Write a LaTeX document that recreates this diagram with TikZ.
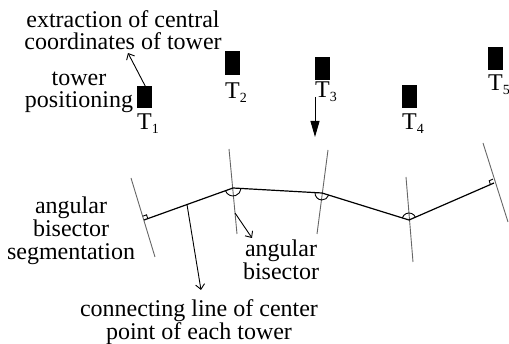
\documentclass[tikz,border=0pt]{standalone}
\usepackage{fontspec}
\setmainfont{Liberation Serif}
\usetikzlibrary{calc,arrows.meta}
\newcommand\tsub[1]{\raisebox{-4pt}{\fontsize{14}{14}\selectfont #1}}
\begin{document}
\begin{tikzpicture}[x=1pt,y=-1pt,
  tower/.style={fill=black, draw=none, inner sep=0pt, minimum width=15pt, anchor=north west},
  lbl/.style={inner sep=0pt, font=\fontsize{24}{23}\selectfont, align=center, anchor=north},
  tlbl/.style={inner sep=0pt, font=\fontsize{24}{24}\selectfont, anchor=north west},
  link/.style={line width=1.2pt, line join=round},
  bis/.style={draw=black!60, line width=0.9pt},
  arr/.style={line width=0.9pt, -{Straight Barb[length=5pt,width=9pt]}},
  anglemark/.style={line width=0.9pt}
]
\useasboundingbox (0,0) rectangle (509,344);

% towers
\node[tower, minimum height=22pt] (t1) at (137,86) {};
\node[tower, minimum height=24pt] (t2) at (225,51) {};
\node[tower, minimum height=23pt] (t3) at (315,57) {};
\node[tower, minimum height=23pt] (t4) at (402,85) {};
\node[tower, minimum height=23pt] (t5) at (488,47) {};

\node[tlbl] (l1) at ($(t1.south west)+(0,5)$) {T\tsub{1}};
\node[tlbl] (l2) at ($(t2.south west)+(0,7)$) {T\tsub{2}};
\node[tlbl] (l3) at ($(t3.south west)+(0,1)$) {T\tsub{3}};
\node[tlbl] (l4) at ($(t4.south west)+(0,5)$) {T\tsub{4}};
\node[tlbl] (l5) at ($(t5.south west)+(0,4)$) {T\tsub{5}};

% texts
\node[lbl, font=\fontsize{24}{22}\selectfont] (ext) at (123,10) {extraction of central\\coordinates of tower};
\node[lbl, font=\fontsize{24}{22}\selectfont] (pos) at (79,72) {tower\\positioning};
\node[lbl] (seg) at (71,197) {angular\\bisector\\segmentation};
\node[lbl] (abis) at (281,240) {angular\\bisector};
\node[lbl] (conn) at (199,299) {connecting line of center\\point of each tower};

% polyline points
\coordinate (p1) at (144,220);
\coordinate (p2) at (233,188);
\coordinate (p3) at (322,193);
\coordinate (p4) at (409,220);
\coordinate (p5) at (494,183);

% bisector ends
\coordinate (b1a) at (131,178); \coordinate (b1b) at (155,257);
\coordinate (b2a) at (229,149); \coordinate (b2b) at (237,234);
\coordinate (b3a) at (328,150); \coordinate (b3b) at (317,234);
\coordinate (b4a) at (406,177); \coordinate (b4b) at (413,262);
\coordinate (b5a) at (483,143); \coordinate (b5b) at (508,222);

\draw[bis] (b1a) -- (b1b);
\draw[bis] (b2a) -- (b2b);
\draw[bis] (b3a) -- (b3b);
\draw[bis] (b4a) -- (b4b);
\draw[bis] (b5a) -- (b5b);

\draw[link] (p1) -- (p2) -- (p3) -- (p4) -- (p5);

% angle marks
\draw[anglemark] ($(p2)+(199.8:8pt)$) arc[start angle=199.8, end angle=356.8, radius=8pt];
\draw[anglemark] ($(p3)+(176.8:7pt)$) arc[start angle=176.8, end angle=342.8, radius=7pt];
\draw[anglemark] ($(p4)+(23.5:7pt)$) arc[start angle=23.5, end angle=162.7, radius=7pt];

\coordinate (s1a) at ($(p1)!4pt!(p2)$);
\coordinate (s1b) at ($(p1)!4pt!(b1a)$);
\draw[anglemark] (s1a) -- ($(s1a)+(s1b)-(p1)$) -- (s1b);
\coordinate (s5a) at ($(p5)!4pt!(p4)$);
\coordinate (s5b) at ($(p5)!4pt!(b5a)$);
\draw[anglemark] (s5a) -- ($(s5a)+(s5b)-(p5)$) -- (s5b);

% arrows
\coordinate (extpt) at (128,53);
\draw[arr] ($(t1.north)+(0.5,0)$) -- (extpt);

\coordinate (a3s) at (315,97);
\coordinate (a3e) at (315,137);
\draw[line width=0.9pt, -{Triangle[length=16pt,width=9pt]}] (a3s) -- (a3e);

\coordinate (q2) at ($(b2a)!0.753!(b2b)$);
\coordinate (abispt) at (252,238);
\draw[arr] (q2) -- (abispt);

\coordinate (f) at ($(p1)!0.483!(p2)$);
\coordinate (conntop) at (201,290);
\draw[arr] (f) -- (conntop);
\end{tikzpicture}
\end{document}
